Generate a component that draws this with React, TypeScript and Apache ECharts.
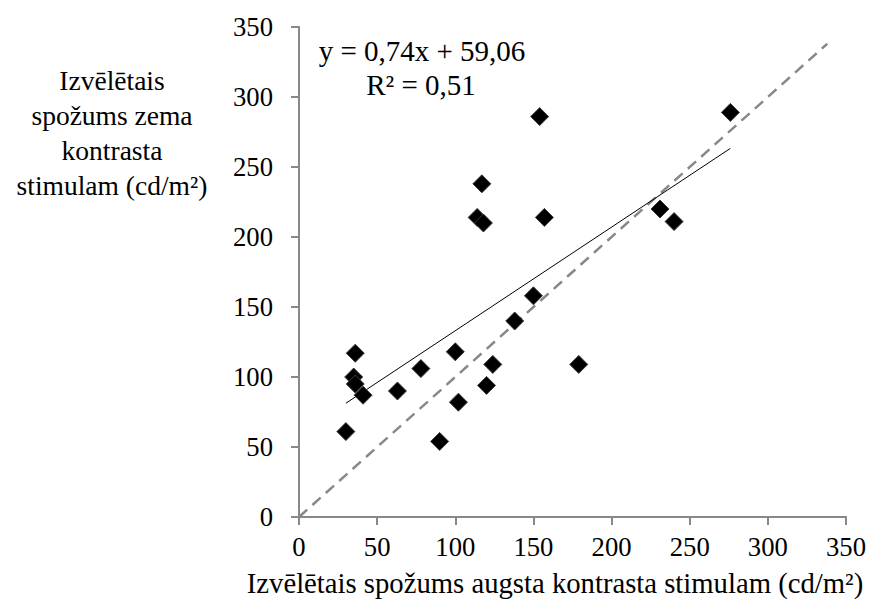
import React, { useEffect, useRef } from "react";
import * as echarts from "echarts";

const xValues = [36, 35, 36, 41, 30, 63, 78, 100, 102, 90, 120, 124, 138, 150, 179, 154, 117, 114, 118, 157, 276, 231, 240];
const yValues = [117, 100, 95, 87, 61, 90, 106, 118, 82, 54, 94, 109, 140, 158, 109, 286, 238, 214, 210, 214, 289, 220, 211];
const trendSlope = 0.74;
const trendIntercept = 59.06;
const rSquared = 0.51;
const identityEnd = 338;
const axisTicks = [0, 50, 100, 150, 200, 250, 300, 350];
const xTitle = "Izvēlētais spožums augsta kontrasta stimulam (cd/m²)";
const yTitleLines = ["Izvēlētais", "spožums zema", "kontrasta", "stimulam (cd/m²)"];

const fmt = (v: number) => v.toFixed(2).replace(".", ",");

export default function App() {
  const ref = useRef<HTMLDivElement>(null);
  useEffect(() => {
    document.body.style.margin = "0";
    if (!ref.current) return;
    const chart = echarts.init(ref.current, null, { renderer: "svg" });
    const font = "Liberation Serif";
    const fs = 26.67;
    const points = xValues.map((x, i) => [x, yValues[i]]);
    const xmin = Math.min(...xValues);
    const xmax = Math.max(...xValues);
    const trend = [
      [xmin, trendSlope * xmin + trendIntercept],
      [xmax, trendSlope * xmax + trendIntercept],
    ];
    const identity = [
      [0, 0],
      [identityEnd, identityEnd],
    ];
    const axisCommon = {
      type: "value" as const,
      min: axisTicks[0],
      max: axisTicks[axisTicks.length - 1],
      interval: axisTicks[1] - axisTicks[0],
      splitLine: { show: false },
      axisLine: { show: true, lineStyle: { color: "#888888", width: 2 } },
      axisTick: { show: true, length: 8, lineStyle: { color: "#888888", width: 2 } },
      axisLabel: { color: "#000", fontFamily: font, fontSize: fs },
    };
    chart.setOption({
      animation: false,
      backgroundColor: "#ffffff",
      textStyle: { fontFamily: font },
      grid: { left: 299, right: 34, top: 27, bottom: 89 },
      xAxis: { ...axisCommon, axisLabel: { ...axisCommon.axisLabel, margin: 16 } },
      yAxis: { ...axisCommon, axisLabel: { ...axisCommon.axisLabel, margin: 26 } },
      series: [
        {
          type: "line",
          data: identity,
          symbol: "none",
          lineStyle: { color: "#888888", width: 2.5, type: [11, 7] },
          z: 1,
        },
        {
          type: "line",
          data: trend,
          symbol: "none",
          lineStyle: { color: "#000000", width: 1 },
          z: 2,
        },
        {
          type: "scatter",
          data: points,
          symbol: "diamond",
          symbolSize: 18,
          itemStyle: { color: "#000000", borderColor: "#3a3a3a", borderWidth: 1, opacity: 1 },
          z: 3,
        },
      ],
      graphic: [
        {
          type: "text",
          x: 422,
          y: 51,
          style: {
            text: `y = ${fmt(trendSlope)}x + ${fmt(trendIntercept)}`,
            fontFamily: font,
            fontSize: 29,
            align: "center",
            verticalAlign: "middle",
            fill: "#000",
          },
        },
        {
          type: "text",
          x: 421,
          y: 85,
          style: {
            text: `R² = ${fmt(rSquared)}`,
            fontFamily: font,
            fontSize: 29,
            align: "center",
            verticalAlign: "middle",
            fill: "#000",
          },
        },
        {
          type: "text",
          x: 112,
          y: 133,
          style: {
            text: yTitleLines.join("\n"),
            fontFamily: font,
            fontSize: 27.5,
            lineHeight: 35,
            align: "center",
            verticalAlign: "middle",
            fill: "#000",
          },
        },
        {
          type: "text",
          x: 555,
          y: 583,
          style: {
            text: xTitle,
            fontFamily: font,
            fontSize: 28.7,
            align: "center",
            verticalAlign: "middle",
            fill: "#000",
          },
        },
      ],
    });
    return () => chart.dispose();
  }, []);
  return <div ref={ref} style={{ width: 880, height: 606 }} />;
}
